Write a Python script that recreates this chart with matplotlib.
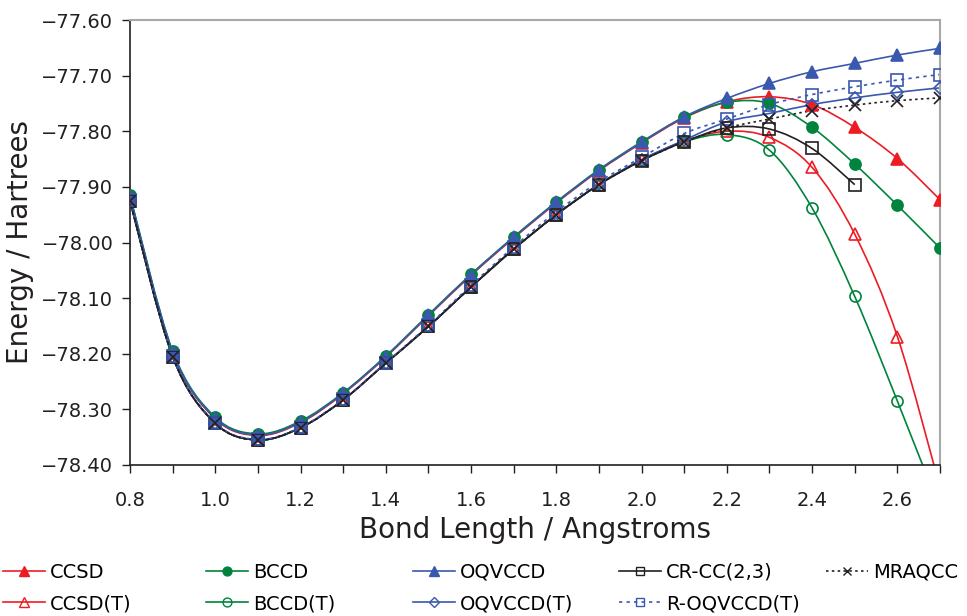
import matplotlib.pyplot as plt
import numpy as np
from matplotlib.path import Path
from matplotlib.patches import PathPatch
from matplotlib.lines import Line2D
from matplotlib.ticker import FuncFormatter, MultipleLocator

plt.rcParams['font.family'] = ['DejaVu Sans']

bond_length = [0.8, 0.9, 1.0, 1.1, 1.2, 1.3, 1.4, 1.5, 1.6, 1.7,
               1.8, 1.9, 2.0, 2.1, 2.2, 2.3, 2.4, 2.5, 2.6, 2.7]

ccsd = [-77.918, -78.198, -78.317, -78.347, -78.324, -78.272, -78.206, -78.132, -78.059, -77.992,
        -77.929, -77.871, -77.821, -77.776, -77.747, -77.738, -77.752, -77.793, -77.849, -77.923]
bccd = [-77.915, -78.195, -78.314, -78.344, -78.321, -78.270, -78.204, -78.130, -78.057, -77.990,
        -77.927, -77.869, -77.819, -77.775, -77.748, -77.750, -77.793, -77.859, -77.933, -78.010]
oqvccd = [-77.917, -78.197, -78.316, -78.346, -78.323, -78.271, -78.205, -78.131, -78.058, -77.991,
          -77.928, -77.870, -77.820, -77.774, -77.741, -77.714, -77.693, -77.678, -77.663, -77.651]
crcc23 = [-77.925, -78.205, -78.325, -78.355, -78.333, -78.283, -78.217, -78.151, -78.080, -78.012,
          -77.950, -77.896, -77.853, -77.819, -77.794, -77.796, -77.831, -77.896, np.nan, np.nan]
mraqcc = [-77.925, -78.205, -78.325, -78.355, -78.333, -78.283, -78.217, -78.151, -78.080, -78.012,
          -77.950, -77.896, -77.853, -77.819, -77.794, -77.778, -77.763, -77.753, -77.745, -77.740]
ccsd_t = [-77.925, -78.205, -78.325, -78.355, -78.333, -78.283, -78.217, -78.151, -78.080, -78.012,
          -77.950, -77.896, -77.852, -77.818, -77.800, -77.811, -77.865, -77.985, -78.169, -78.440]
bccd_t = [-77.925, -78.205, -78.325, -78.355, -78.333, -78.283, -78.217, -78.151, -78.080, -78.012,
          -77.950, -77.896, -77.852, -77.819, -77.806, -77.834, -77.938, -78.097, -78.285, -78.480]
oqvccd_t = [-77.925, -78.205, -78.325, -78.355, -78.333, -78.283, -78.217, -78.151, -78.080, -78.012,
            -77.950, -77.895, -77.851, -77.816, -77.783, -77.768, -77.752, -77.740, -77.730, -77.722]
roqvccd_t = [-77.924, -78.204, -78.324, -78.354, -78.332, -78.282, -78.216, -78.149, -78.077, -78.008,
             -77.945, -77.891, -77.847, -77.804, -77.778, -77.752, -77.734, -77.720, -77.708, -77.698]

RED = '#ed1c24'
GREEN = '#00843d'
BLUE = '#3a58ad'
BLACK = '#231f20'

series = [
    ('CCSD', ccsd, RED, '^', True, '-'),
    ('CCSD(T)', ccsd_t, RED, '^', False, '-'),
    ('BCCD', bccd, GREEN, 'o', True, '-'),
    ('BCCD(T)', bccd_t, GREEN, 'o', False, '-'),
    ('OQVCCD', oqvccd, BLUE, '^', True, '-'),
    ('OQVCCD(T)', oqvccd_t, BLUE, 'D', False, '-'),
    ('CR-CC(2,3)', crcc23, BLACK, 's', False, '-'),
    ('R-OQVCCD(T)', roqvccd_t, BLUE, 's', False, (0, (2, 2.5))),
    ('MRAQCC', mraqcc, BLACK, 'x', False, (0, (1.5, 2))),
]
msize = {'^': 9, 'o': 8, 'D': 6.5, 's': 8, 'x': 8}


def smooth_path(x, y):
    # Excel-style smoothed line: cubic Bezier through the data points
    x = np.asarray(x, float)
    y = np.asarray(y, float)
    ok = ~np.isnan(y)
    pts = np.column_stack([x[ok], y[ok]])
    n = len(pts)
    verts = [pts[0]]
    codes = [Path.MOVETO]
    for i in range(n - 1):
        p0 = pts[max(i - 1, 0)]
        p1 = pts[i]
        p2 = pts[i + 1]
        p3 = pts[min(i + 2, n - 1)]
        verts += [p1 + (p2 - p0) / 6, p2 - (p3 - p1) / 6, p2]
        codes += [Path.CURVE4] * 3
    return Path(verts, codes)


fig = plt.figure(figsize=(9.67, 6.16), dpi=100)
ax = fig.add_axes([130 / 967, 1 - 465 / 616, 810 / 967, 445 / 616])

handles = []
for z, (name, vals, col, mk, filled, ls) in enumerate(series):
    patch = PathPatch(smooth_path(bond_length, vals), fill=False, edgecolor=col,
                      lw=1.2, linestyle=ls, zorder=2 + z * 0.01)
    ax.add_patch(patch)
    fc = col if filled else 'none'
    ax.plot(bond_length, vals, linestyle='none', marker=mk, ms=msize[mk],
            mfc=fc, mec=col, mew=1.2, zorder=3 + z * 0.01)
    handles.append(Line2D([], [], color=col, lw=1.2, linestyle=ls, marker=mk,
                          ms=msize[mk] * 0.8, mfc=fc, mec=col, mew=1.0, label=name))

ax.set_xlim(0.8, 2.7)
ax.set_ylim(-78.40, -77.60)
ax.xaxis.set_major_locator(MultipleLocator(0.2))
ax.xaxis.set_minor_locator(MultipleLocator(0.1))
ax.yaxis.set_major_locator(MultipleLocator(0.1))
ax.xaxis.set_major_formatter(FuncFormatter(lambda v, p: f'{v:.1f}'))
ax.yaxis.set_major_formatter(FuncFormatter(lambda v, p: f'{v:.2f}'.replace('-', '\u2212')))
ax.tick_params(axis='both', which='both', direction='out', length=6, width=1.0,
               color=BLACK, labelsize=14, labelcolor=BLACK)
ax.tick_params(axis='x', pad=13)
ax.tick_params(axis='y', pad=6)

for s in ['left', 'bottom']:
    ax.spines[s].set_color(BLACK)
    ax.spines[s].set_linewidth(1.2)
for s in ['top', 'right']:
    ax.spines[s].set_color('#a8a8a8')
    ax.spines[s].set_linewidth(1.5)

ax.set_xlabel('Bond Length / Angstroms', fontsize=20, color=BLACK, labelpad=4)
ax.set_ylabel('Energy / Hartrees', fontsize=20, color=BLACK, labelpad=5)

col_x = [3, 206, 413, 619, 826]
groups = [handles[0:2], handles[2:4], handles[4:6], handles[6:8], handles[8:9]]
for x0, grp in zip(col_x, groups):
    fig.legend(handles=grp, loc='upper left', bbox_to_anchor=(x0 / 967, 1 - 563 / 616),
               frameon=False, fontsize=14, borderpad=0, borderaxespad=0,
               handlelength=2.15, handletextpad=0.25, labelspacing=0.62)

fig.savefig('out.png', dpi=100)
